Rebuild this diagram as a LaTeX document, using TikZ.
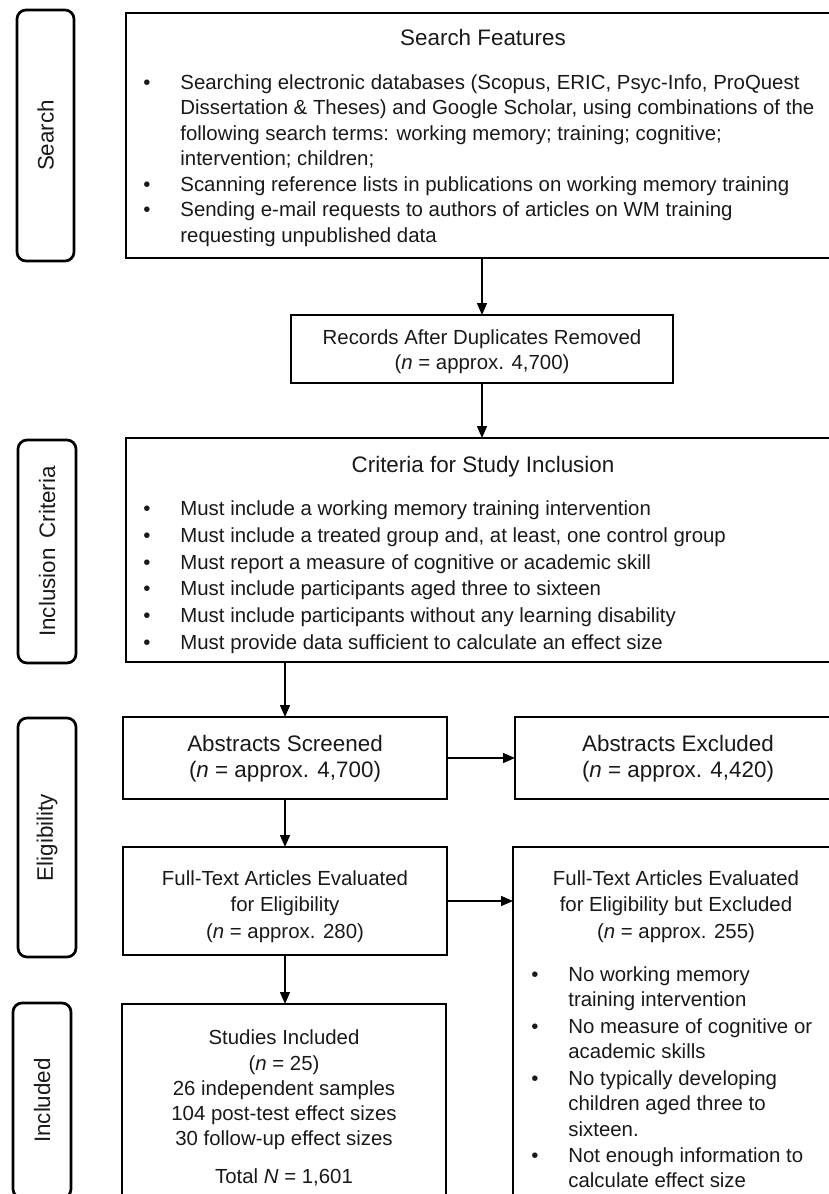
\documentclass[tikz,border=0pt]{standalone}
\usepackage{fontspec}
\setmainfont{Liberation Sans}
\usetikzlibrary{arrows.meta}
\begin{document}
\begin{tikzpicture}[x=0.5pt,y=-0.5pt,
  every node/.style={font=\fontsize{10.2pt}{12.75pt}\selectfont, text=black!90},
  big/.style={font=\fontsize{11.2pt}{12.75pt}\selectfont},
  box/.style={draw, line width=1.35pt, inner sep=0pt, outer sep=0pt},
  lab/.style={draw, line width=1.35pt, rounded corners=4.5pt, inner sep=0pt, outer sep=0pt},
  txt/.style={inner sep=0pt, anchor=base west},
  ctr/.style={inner sep=0pt, anchor=base},
  bul/.style={inner sep=0pt, anchor=base},
  side/.style={inner sep=0pt, rotate=90, big},
  arr/.style={line width=0.7pt, -{Triangle[length=6pt,width=5pt]}}]
\useasboundingbox (0,0) rectangle (829,1194);
\clip (0,0) rectangle (829,1194);

% side labels
\node[lab, minimum width=28.5pt, minimum height=125.5pt] (lS) at (45.5,135.5) {};
\node[side] (lSt) at (lS.center) {Search};
\node[lab, minimum width=29pt, minimum height=111.5pt] (lI) at (47,551.5) {};
\node[side] (lIt) at (lI.center) {Inclusion\hspace{0.45em}Criteria};
\node[lab, minimum width=29pt, minimum height=119.5pt] (lE) at (47,837.5) {};
\node[side] (lEt) at (lE.center) {Eligibility};
\node[lab, minimum width=29pt, minimum height=97.5pt] (lN) at (42,1100.5) {};
\node[side] (lNt) at (lN.center) {Included};

% boxes
\node[box, minimum width=355pt, minimum height=122.5pt] (feat) at (481,135.5) {};
\node[box, minimum width=191pt, minimum height=34pt] (rec) at (482,349) {};
\node[box, minimum width=355pt, minimum height=112pt] (crit) at (481,550) {};
\node[box, minimum width=162pt, minimum height=41pt] (abs) at (285,758) {};
\node[box, minimum width=160.5pt, minimum height=41pt] (absx) at (675.5,758) {};
\node[box, minimum width=162pt, minimum height=54pt] (full) at (285,901) {};
\node[box, minimum width=161.5pt, minimum height=178.5pt] (fullx) at (674.5,1025.5) {};
\node[box, minimum width=162pt, minimum height=100pt] (stud) at (284,1104) {};

% search features
\node[ctr, big] (featT) at (483,45) {Search Features};
\node[bul] (fb1) at (147,89) {•};
\node[bul] (fb2) at (147,191) {•};
\node[bul] (fb3) at (147,216.5) {•};
\node[txt] (f1) at (180,89) {Searching electronic databases (Scopus, ERIC, Psyc-Info, ProQuest};
\node[txt] (f2) at (180,114.5) {Dissertation \& Theses) and Google Scholar, using combinations of the};
\node[txt] (f3) at (180,140) {following search terms: working memory; training; cognitive;};
\node[txt] (f4) at (180,165.5) {intervention; children;};
\node[txt] (f5) at (180,191) {Scanning reference lists in publications on working memory training};
\node[txt] (f6) at (180,216.5) {Sending e-mail requests to authors of articles on WM training};
\node[txt] (f7) at (180,242) {requesting unpublished data};

% records
\node[ctr] (rec1) at (482,344) {Records After Duplicates Removed};
\node[ctr] (rec2) at (482,369.5) {(\textit{n} = approx. 4,700)};

% criteria
\node[ctr, big] (critT) at (483,472) {Criteria for Study Inclusion};
\foreach \yy/\tt [count=\i] in {
  515/{Must include a working memory training intervention},
  542/{Must include a treated group and, at least, one control group},
  569/{Must report a measure of cognitive or academic skill},
  595/{Must include participants aged three to sixteen},
  622/{Must include participants without any learning disability},
  649/{Must provide data sufficient to calculate an effect size}}{
  \node[bul] (cb\i) at (147,\yy) {•};
  \node[txt] (c\i) at (180,\yy) {\tt};
}

% abstracts
\node[ctr, big] (abs1) at (285,751) {Abstracts Screened};
\node[ctr, big] (abs2) at (285,777) {(\textit{n} = approx. 4,700)};
\node[ctr, big] (absx1) at (678,751) {Abstracts Excluded};
\node[ctr, big] (absx2) at (678,777) {(\textit{n} = approx. 4,420)};

% full text
\node[ctr] (full1) at (285,885) {Full-Text Articles Evaluated};
\node[ctr] (full2) at (285,911.5) {for Eligibility};
\node[ctr] (full3) at (285,938) {(\textit{n} = approx. 280)};
\node[ctr] (fullx1) at (676,885) {Full-Text Articles Evaluated};
\node[ctr] (fullx2) at (676,911.5) {for Eligibility but Excluded};
\node[ctr] (fullx3) at (676,938) {(\textit{n} = approx. 255)};

\node[bul] (xb1) at (535,981) {•};
\node[bul] (xb2) at (535,1033) {•};
\node[bul] (xb3) at (535,1085) {•};
\node[bul] (xb4) at (535,1162) {•};
\node[txt] (x1) at (568,981) {No working memory};
\node[txt] (x2) at (568,1006) {training intervention};
\node[txt] (x3) at (568,1033) {No measure of cognitive or};
\node[txt] (x4) at (568,1058) {academic skills};
\node[txt] (x5) at (568,1085) {No typically developing};
\node[txt] (x6) at (568,1110) {children aged three to};
\node[txt] (x7) at (568,1136) {sixteen.};
\node[txt] (x8) at (568,1162) {Not enough information to};
\node[txt] (x9) at (568,1187) {calculate effect size};

% studies included
\node[ctr] (s1) at (284,1044) {Studies Included};
\node[ctr] (s2) at (284,1070) {(\textit{n} = 25)};
\node[ctr] (s3) at (284,1095) {26 independent samples};
\node[ctr] (s4) at (284,1120) {104 post-test effect sizes};
\node[ctr] (s5) at (284,1145) {30 follow-up effect sizes};
\node[ctr] (s6) at (284,1183) {Total \textit{N} = 1,601};

% arrows
\draw[arr] (rec.north |- feat.south) -- (rec.north);
\draw[arr] (rec.south) -- (rec.south |- crit.north);
\draw[arr] (abs.north |- crit.south) -- (abs.north);
\draw[arr] (abs.east) -- (absx.west |- abs.east);
\draw[arr] (abs.south) -- (full.north);
\draw[arr] (full.east) -- (fullx.west |- full.east);
\draw[arr] (full.south) -- (stud.north -| full.south);
\end{tikzpicture}
\end{document}
